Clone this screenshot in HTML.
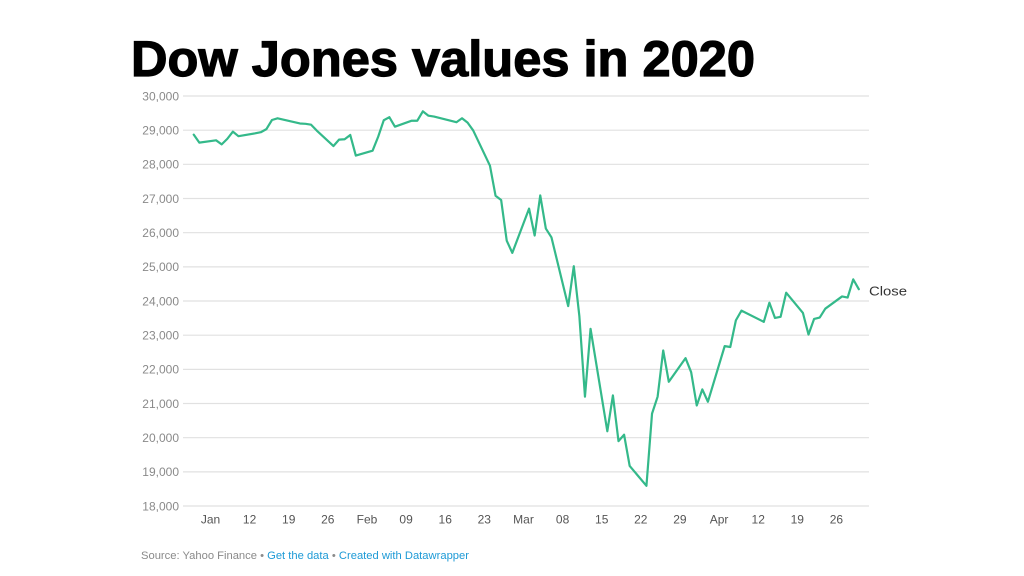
<!DOCTYPE html>
<html><head><meta charset="utf-8"><style>
html,body{margin:0;padding:0;background:#fff;}
svg{display:block;}
text{font-family:"Liberation Sans",Arial,sans-serif;}
</style></head><body>
<svg width="1024" height="576" viewBox="0 0 1024 576" xmlns="http://www.w3.org/2000/svg">
<rect width="1024" height="576" fill="#fff"/>
<text x="131" y="76" font-size="50" font-weight="bold" fill="#000" stroke="#000" stroke-width="1.2" textLength="624" lengthAdjust="spacingAndGlyphs">Dow Jones values in 2020</text>
<g stroke="#e1e1e1" stroke-width="1.2">
<line x1="183" x2="869" y1="96" y2="96"/>
<line x1="183" x2="869" y1="130.2" y2="130.2"/>
<line x1="183" x2="869" y1="164.3" y2="164.3"/>
<line x1="183" x2="869" y1="198.5" y2="198.5"/>
<line x1="183" x2="869" y1="232.7" y2="232.7"/>
<line x1="183" x2="869" y1="266.9" y2="266.9"/>
<line x1="183" x2="869" y1="301" y2="301"/>
<line x1="183" x2="869" y1="335.2" y2="335.2"/>
<line x1="183" x2="869" y1="369.4" y2="369.4"/>
<line x1="183" x2="869" y1="403.5" y2="403.5"/>
<line x1="183" x2="869" y1="437.7" y2="437.7"/>
<line x1="183" x2="869" y1="471.9" y2="471.9"/>
<line x1="183" x2="869" y1="506" y2="506"/>
</g>
<g font-size="12" fill="#8a8a8a" text-anchor="end">
<text x="179" y="100.3">30,000</text>
<text x="179" y="134.5">29,000</text>
<text x="179" y="168.6">28,000</text>
<text x="179" y="202.8">27,000</text>
<text x="179" y="237">26,000</text>
<text x="179" y="271.2">25,000</text>
<text x="179" y="305.3">24,000</text>
<text x="179" y="339.5">23,000</text>
<text x="179" y="373.7">22,000</text>
<text x="179" y="407.8">21,000</text>
<text x="179" y="442">20,000</text>
<text x="179" y="476.2">19,000</text>
<text x="179" y="510.3">18,000</text>
</g>
<g font-size="12" fill="#555" text-anchor="middle">
<text x="210.5" y="523.5">Jan</text>
<text x="249.6" y="523.5">12</text>
<text x="288.7" y="523.5">19</text>
<text x="327.8" y="523.5">26</text>
<text x="367" y="523.5">Feb</text>
<text x="406.1" y="523.5">09</text>
<text x="445.2" y="523.5">16</text>
<text x="484.3" y="523.5">23</text>
<text x="523.5" y="523.5">Mar</text>
<text x="562.6" y="523.5">08</text>
<text x="601.7" y="523.5">15</text>
<text x="640.8" y="523.5">22</text>
<text x="679.9" y="523.5">29</text>
<text x="719.1" y="523.5">Apr</text>
<text x="758.2" y="523.5">12</text>
<text x="797.3" y="523.5">19</text>
<text x="836.4" y="523.5">26</text>
</g>
<g transform="matrix(5.589 0 0 -0.03417 182.555 1121.1)">
<polyline fill="none" stroke="#34b98a" stroke-width="2.2" stroke-linejoin="round" stroke-linecap="round" vector-effect="non-scaling-stroke" points="2,28868.8 3,28634.88 6,28703.38 7,28583.68 8,28745.09 9,28956.9 10,28823.77 13,28907.05 14,28939.67 15,29030.22 16,29297.64 17,29348.1 21,29196.04 22,29186.27 23,29160.09 24,28989.73 27,28535.8 28,28722.85 29,28734.45 30,28859.44 31,28256.03 34,28399.81 35,28807.63 36,29290.85 37,29379.77 38,29102.51 41,29276.82 42,29276.34 43,29551.42 44,29423.31 45,29398.08 49,29232.19 50,29348.03 51,29219.98 52,28992.41 55,27960.8 56,27081.36 57,26957.59 58,25766.64 59,25409.36 62,26703.32 63,25917.41 64,27090.86 65,26121.28 66,25864.78 69,23851.02 70,25018.16 71,23553.22 72,21200.62 73,23185.62 76,20188.52 77,21237.38 78,19898.92 79,20087.19 80,19173.98 83,18591.93 84,20704.91 85,21200.55 86,22552.17 87,21636.78 90,22327.48 91,21917.16 92,20943.51 93,21413.44 94,21052.53 97,22679.99 98,22653.86 99,23433.57 100,23719.37 104,23390.77 105,23949.76 106,23504.35 107,23537.68 108,24242.49 111,23650.44 112,23018.88 113,23475.82 114,23515.26 115,23775.27 118,24133.78 119,24101.55 120,24633.86 121,24345.72"/>
</g>
<text x="869" y="295.5" font-size="13" fill="#333" textLength="38" lengthAdjust="spacingAndGlyphs">Close</text>
<text x="141" y="559" font-size="11" textLength="328" lengthAdjust="spacingAndGlyphs"><tspan fill="#8a8a8a">Source: Yahoo Finance • </tspan><tspan fill="#1d9ad6">Get the data</tspan><tspan fill="#8a8a8a"> • </tspan><tspan fill="#1d9ad6">Created with Datawrapper</tspan></text>
</svg>
</body></html>
